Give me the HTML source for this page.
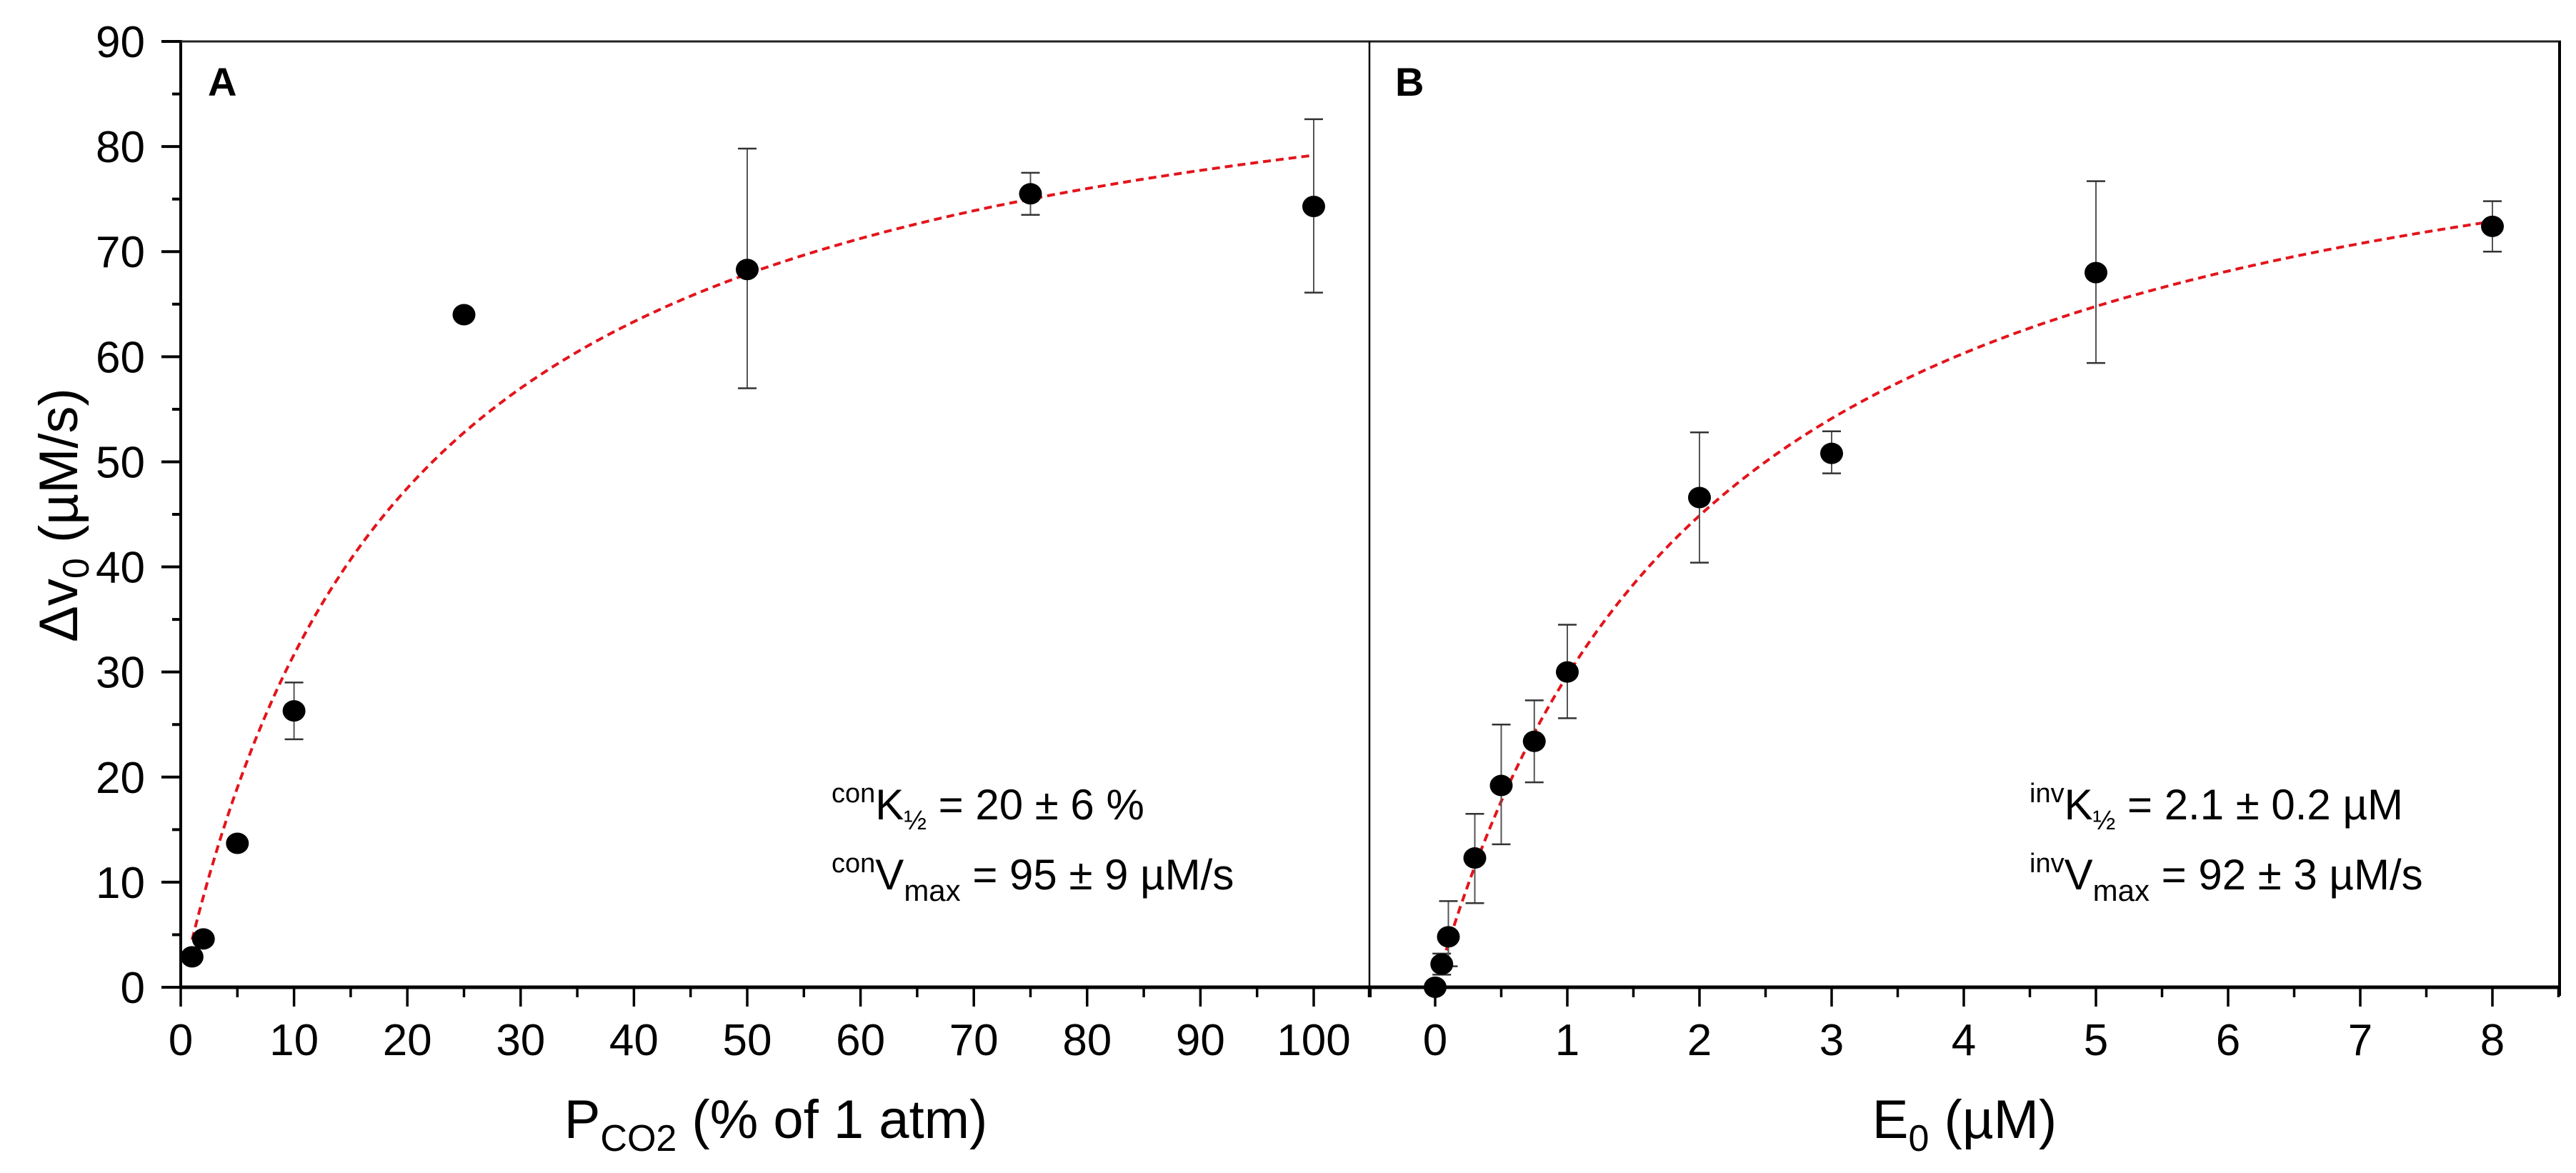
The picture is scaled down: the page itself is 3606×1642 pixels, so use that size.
<!DOCTYPE html>
<html><head><meta charset="utf-8"><style>
html,body{margin:0;padding:0;background:#fff;}
svg{display:block;font-family:"Liberation Sans",Arial,sans-serif;}
</style></head><body>
<svg id="chart" width="3606" height="1642" viewBox="0 0 3606 1642" xmlns="http://www.w3.org/2000/svg">
<g id="axes"></g>
<g id="curves"></g>
<g id="errs"></g>
<g id="pts"></g>
<text x="291" y="134" font-size="56" font-weight="bold">A</text>
<text x="1953" y="134" font-size="56" font-weight="bold">B</text>
<text x="1164" y="1147" font-size="60"><tspan font-size="38" dy="-24">con</tspan><tspan dy="24">K</tspan><tspan font-size="38" dy="14">½</tspan><tspan dy="-14"> = 20 ± 6 %</tspan></text>
<text x="1164" y="1245" font-size="60"><tspan font-size="38" dy="-24">con</tspan><tspan dy="24">V</tspan><tspan font-size="42" dy="16">max</tspan><tspan dy="-16"> = 95 ± 9 µM/s</tspan></text>
<text x="2841" y="1147" font-size="60"><tspan font-size="38" dy="-24">inv</tspan><tspan dy="24">K</tspan><tspan font-size="38" dy="14">½</tspan><tspan dy="-14"> = 2.1 ± 0.2 µM</tspan></text>
<text x="2841" y="1245" font-size="60"><tspan font-size="38" dy="-24">inv</tspan><tspan dy="24">V</tspan><tspan font-size="42" dy="16">max</tspan><tspan dy="-16"> = 92 ± 3 µM/s</tspan></text>
<text x="1086" y="1593" font-size="76" text-anchor="middle">P<tspan font-size="52" dy="18">CO2</tspan><tspan dy="-18"> (% of 1 atm)</tspan></text>
<text x="2750" y="1593" font-size="76" text-anchor="middle">E<tspan font-size="52" dy="18">0</tspan><tspan dy="-18"> (µM)</tspan></text>
<text transform="translate(108,721) rotate(-90)" font-size="76" text-anchor="middle">Δv<tspan font-size="52" dy="16">0</tspan><tspan dy="-16"> (µM/s)</tspan></text>
</svg>
<script>
// Panel A data
const aX = [1, 2, 5, 10, 25, 50, 75, 100];
const aY = [2.9, 4.6, 13.7, 26.3, 64, 68.3, 75.5, 74.3];
const aLo = [2.9, 4.6, 13.7, 23.6, 64, 57, 73.5, 66.1];
const aHi = [2.9, 4.6, 13.7, 29, 64, 79.8, 77.5, 82.6];
const aVmax = 95, aK = 20;
// Panel B data
const bX = [0, 0.05, 0.1, 0.3, 0.5, 0.75, 1, 2, 3, 5, 8];
const bY = [0, 2.2, 4.8, 12.3, 19.2, 23.4, 30, 46.6, 50.8, 68, 72.4];
const bLo = [0, 1.2, 2, 8, 13.6, 19.5, 25.6, 40.4, 48.9, 59.4, 70];
const bHi = [0, 3.2, 8.2, 16.5, 25, 27.3, 34.5, 52.8, 52.9, 76.7, 74.8];
const bVmax = 92, bK = 2.1;
// Ticks
const yTicks = [0, 10, 20, 30, 40, 50, 60, 70, 80, 90];
const aTicks = [0, 10, 20, 30, 40, 50, 60, 70, 80, 90, 100];
const bTicks = [0, 1, 2, 3, 4, 5, 6, 7, 8];

const NS = "http://www.w3.org/2000/svg";
const Y0 = 1382, Y90 = 58;
const y = v => Y0 + (Y90 - Y0) * v / 90;
const xa = v => 253 + 15.86 * v;
const xb = v => 2009 + 185 * v;
function mk(parent, tag, attrs) {
  const e = document.createElementNS(NS, tag);
  for (const k in attrs) e.setAttribute(k, attrs[k]);
  document.getElementById(parent).appendChild(e);
  return e;
}
function line(p, x1, y1, x2, y2, w, c) { return mk(p, "line", {x1, y1, x2, y2, stroke: c || "#000", "stroke-width": w}); }

// frame
let e;
e = line("axes", 253, Y0, 3583, Y0, 5);  
e = line("axes", 253, Y90 - 2, 253, Y0, 4);  
e = line("axes", 226, Y90, 3585, Y90, 3, "#222");  
e = line("axes", 3583, Y90, 3583, Y0 + 12, 4);  
e = line("axes", 1917, Y90, 1917, Y0 + 12, 2.5);  

// y ticks
for (let v = 0; v <= 90; v += 5) {
  const major = v % 10 === 0;
  e = line("axes", major ? 226 : 241, y(v), 253, y(v), 4);
  
  
}
yTicks.forEach(v => {
  const t = mk("axes", "text", {x: 203, y: y(v) + 22, "font-size": 62, "text-anchor": "end"});
  t.textContent = v;
  
  
});
// x ticks A
for (let v = 0; v <= 105; v += 5) {
  const major = v % 10 === 0;
  e = line("axes", xa(v), Y0, xa(v), Y0 + (major ? 27 : 14), 3.5);
  
  
}
aTicks.forEach(v => {
  const t = mk("axes", "text", {x: xa(v), y: 1477, "font-size": 62, "text-anchor": "middle"});
  t.textContent = v;
  
  
});
// x ticks B
for (let v = -0.5; v <= 8.5; v += 0.5) {
  const major = Math.abs(v - Math.round(v)) < 1e-9;
  e = line("axes", xb(v), Y0, xb(v), Y0 + (major ? 27 : 14), 3.5);
  
  
}
bTicks.forEach(v => {
  const t = mk("axes", "text", {x: xb(v), y: 1477, "font-size": 62, "text-anchor": "middle"});
  t.textContent = v;
  
  
});

// fit curves
function curve(fx, vmax, k, x0, x1, name) {
  let d = "";
  for (let i = 0; i <= 300; i++) {
    const xv = x0 + (x1 - x0) * i / 300;
    const yv = vmax * xv / (k + xv);
    d += (i ? "L" : "M") + fx(xv).toFixed(1) + "," + y(yv).toFixed(1);
  }
  const p = mk("curves", "path", {d, fill: "none", stroke: "#e3141b", "stroke-width": 4, "stroke-dasharray": "11 7"});
  
  
}
curve(xa, aVmax, aK, 1, 100, "fit-curve-a");
curve(xb, bVmax, bK, 0, 8, "fit-curve-b");

// error bars + points
function series(fx, xs, ys, lo, hi, nm) {
  xs.forEach((xv, i) => {
    if (hi[i] - lo[i] > 0.5) {
      const cx = fx(xv);
      const g1 = line("errs", cx, y(lo[i]), cx, y(hi[i]), 2, "#555");
      
      
      const c1 = line("errs", cx - 13, y(hi[i]), cx + 13, y(hi[i]), 2.5, "#333");
      
      
      const c2 = line("errs", cx - 13, y(lo[i]), cx + 13, y(lo[i]), 2.5, "#333");
      
      
    }
    const c = mk("pts", "ellipse", {cx: fx(xv), cy: y(ys[i]), rx: 16, ry: 15, fill: "#000"});
    
    
  });
}
series(xa, aX, aY, aLo, aHi, "a");
series(xb, bX, bY, bLo, bHi, "b");
</script>
</body></html>
